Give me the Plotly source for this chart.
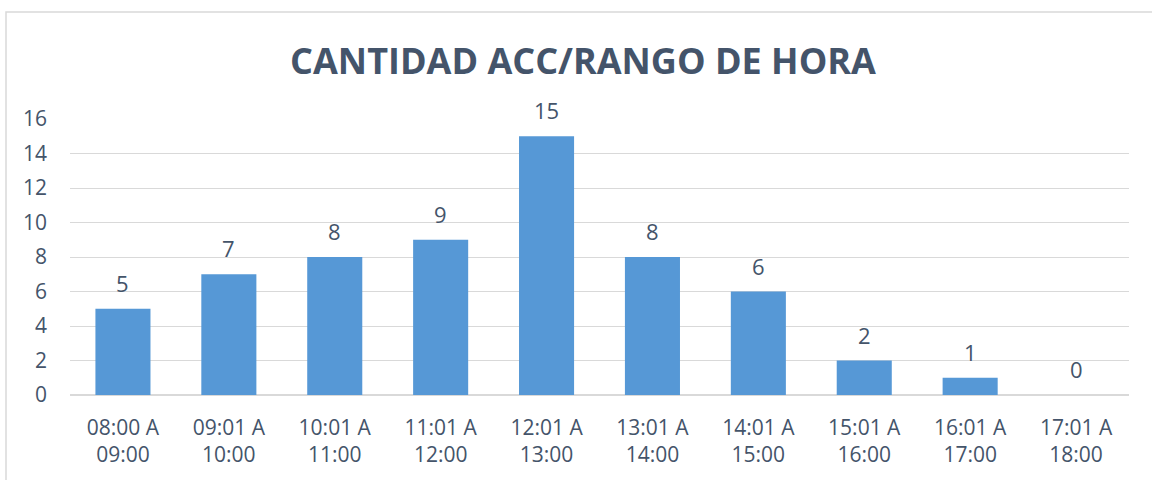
import plotly.graph_objects as go

categories = ["08:00 A<br>09:00", "09:01 A<br>10:00", "10:01 A<br>11:00", "11:01 A<br>12:00",
              "12:01 A<br>13:00", "13:01 A<br>14:00", "14:01 A<br>15:00", "15:01 A<br>16:00",
              "16:01 A<br>17:00", "17:01 A<br>18:00"]
values = [5, 7, 8, 9, 15, 8, 6, 2, 1, 0]
y_ticks = [0, 2, 4, 6, 8, 10, 12, 14, 16]
title_text = "CANTIDAD ACC/RANGO DE HORA"

text_color = "#44546A"
font_family = "Open Sans, Noto Sans, sans-serif"

W, H = 1152, 480

fig = go.Figure(go.Bar(
    x=categories, y=values,
    marker=dict(color="#5698D6", line=dict(width=0)),
    cliponaxis=False,
))

for c, v in zip(categories, values):
    fig.add_annotation(x=c, y=v, text=str(v), showarrow=False, yanchor="bottom",
                       yshift=9, font=dict(size=22, color=text_color, family=font_family))

fig.update_layout(
    width=W, height=H,
    margin=dict(l=70, r=23, t=119, b=85),
    paper_bgcolor="white", plot_bgcolor="white",
    bargap=0.48,
    showlegend=False,
    title=dict(text="<b>" + title_text + "</b>", x=583/W, xanchor="center",
               y=1 - 61/H, yanchor="middle", yref="container",
               font=dict(size=36, color=text_color, family=font_family)),
    font=dict(family=font_family, color=text_color),
)
fig.update_xaxes(showgrid=False, showline=False, ticks="", ticklabelstandoff=18,
                 tickfont=dict(size=21, color=text_color))
fig.update_yaxes(range=[0, 16], tickvals=y_ticks, showgrid=True, gridcolor="#D9D9D9",
                 gridwidth=1, zeroline=True, zerolinecolor="#D9D9D9", showline=False,
                 ticks="", ticklabelstandoff=22,
                 tickfont=dict(size=21, color=text_color))

fig.add_shape(type="rect", xref="paper", yref="paper",
              x0=(6 - 70) / 1059, x1=(1170 - 70) / 1059,
              y0=(395 - 495) / 276, y1=(395 - 12) / 276,
              line=dict(color="#D9D9D9", width=1.5), fillcolor="rgba(0,0,0,0)", layer="below")

fig.write_html("out.html", config={"displayModeBar": False},
               post_script="document.body.style.margin='0';document.body.style.overflow='hidden';")
